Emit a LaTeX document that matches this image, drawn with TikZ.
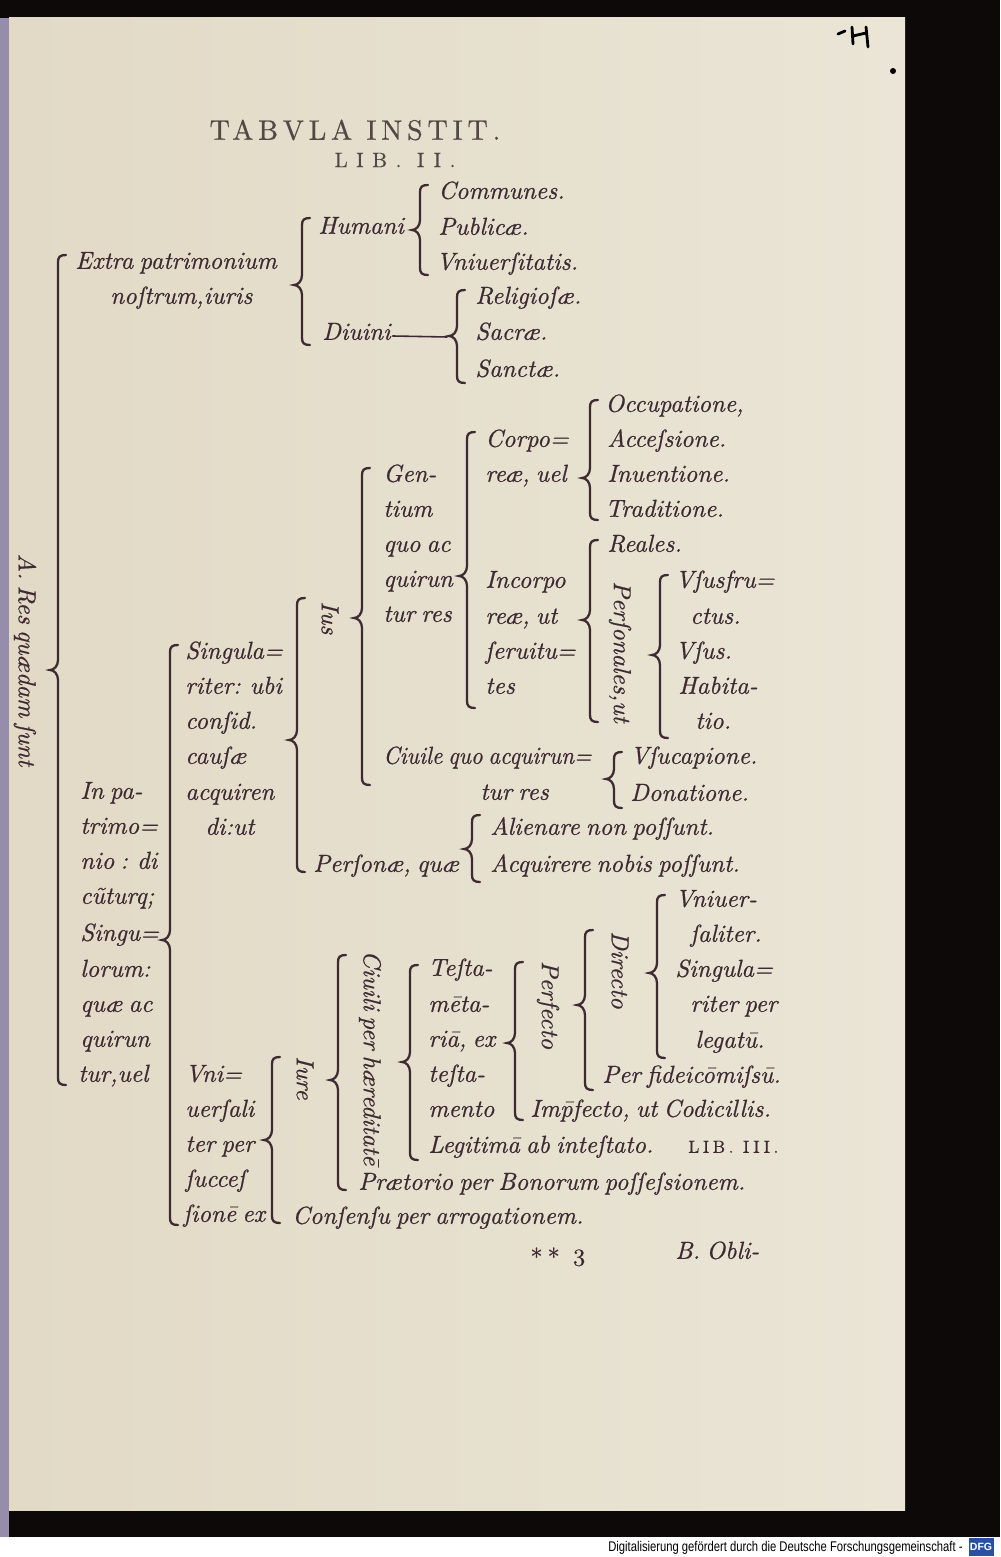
\documentclass[tikz,border=0pt]{standalone}
\usepackage{fontspec}
\newfontfamily\dfgfont{Liberation Sans}
\newfontfamily\oldit{lmroman10-italic.otf}[FakeBold=0.6,WordSpace=0.7]
\newfontfamily\titlefont{lmroman10-regular.otf}[LetterSpace=17,FakeBold=0.6]
\newfontfamily\libfont{lmroman10-regular.otf}[LetterSpace=40,FakeBold=0.4]
\newfontfamily\libsmall{lmroman10-regular.otf}[LetterSpace=20,FakeBold=0.4]
\definecolor{ink}{RGB}{62,42,50}
\definecolor{head}{RGB}{82,72,70}
\definecolor{paper}{RGB}{226,218,198}
\definecolor{paperlt}{RGB}{234,229,214}
\definecolor{edge}{RGB}{150,140,172}
\definecolor{scanbg}{RGB}{14,9,9}
\definecolor{dfgblue}{RGB}{40,80,160}
\newcommand{\itfont}{\oldit\fontsize{14}{17}\selectfont}
% bracket: x, top, tip, bottom (page pixels)
\newcommand{\brak}[4]{%
  \draw[brk] (#1+8,#2) .. controls (#1+2,#2) and (#1,#2+2) .. (#1,#2+7)
    -- (#1,#3-10) .. controls (#1,#3-4) and (#1-4,#3) .. (#1-8,#3)
    .. controls (#1-4,#3) and (#1,#3+4) .. (#1,#3+10)
    -- (#1,#4-7) .. controls (#1,#4-2) and (#1+2,#4) .. (#1+8,#4);}

\begin{document}
\begin{tikzpicture}[x=0.02cm,y=-0.02cm,
  txt/.style={anchor=mid west,inner sep=0pt,text=ink,font=\itfont},
  vtxt/.style={rotate=-90,inner sep=0pt,text=ink,font=\itfont},
  brk/.style={draw=ink,line width=1.3pt,line cap=round}]
  \useasboundingbox (0,0) rectangle (1000,1557);
  % scan and page
  \fill[scanbg] (0,0) rectangle (1000,1557);
  \fill[white] (0,1537) rectangle (1000,1557);
  \fill[edge] (0,18) rectangle (9,1537);
  \shade[left color=paper,right color=paperlt] (9,18) rectangle (905,1510);
  % pencil mark
  \draw[black,line width=1.6pt,line cap=round] (838,34) -- (845,31);
  \draw[black,line width=1.6pt,line cap=round] (852,27) -- (853,44) (853,36) -- (866,33) (866,27) -- (868,47);
  \fill[black] (893,71) circle (3);

  % title
  \node[text=head,font=\titlefont\fontsize{16}{19}\selectfont] (titulus) at (355,130) {TABVLA INSTIT.};
  \node[text=head,font=\libfont\fontsize{12}{14}\selectfont] (liber) at (395,160) {LIB. II.};

  % extra patrimonium
  \node[txt] (extra) at (75,265) {Extra patrimonium};
  \node[txt] (nostrum) at (110,300) {noſtrum,iuris};
  \node[txt] (humani) at (318,230) {Humani};
  \node[txt] (diuini) at (322,336) {Diuini};
  \node[txt] (communes) at (438,195) {Communes.};
  \node[txt] (publicae) at (438,231) {Publicæ.};
  \node[txt] (uniuersitatis) at (436,266) {Vniuerſitatis.};
  \node[txt] (religiosae) at (475,300) {Religioſæ.};
  \node[txt] (sacrae) at (475,336) {Sacræ.};
  \node[txt] (sanctae) at (475,373) {Sanctæ.};
  \coordinate (diuinitip) at (447,337);
  \draw[brk,line width=0.9pt] ([xshift=1pt]diuini.mid east) -- (diuinitip);

  % ius gentium
  \node[vtxt] (ius) at (330,618) {Ius};
  \node[txt] (gen) at (383,478) {Gen-};
  \node[txt] (tium) at (383,513) {tium};
  \node[txt] (quoac) at (383,548) {quo ac};
  \node[txt] (quirunA) at (383,583) {quirun};
  \node[txt] (turresA) at (383,618) {tur res};
  \node[txt] (corpo) at (485,443) {Corpo=};
  \node[txt] (reaeuel) at (485,478) {reæ, uel};
  \node[txt] (occupatione) at (605,408) {Occupatione,};
  \node[txt] (accessione) at (607,443) {Acceſsione.};
  \node[txt] (inuentione) at (607,478) {Inuentione.};
  \node[txt] (traditione) at (605,513) {Traditione.};
  \node[txt] (incorpo) at (485,584) {Incorpo};
  \node[txt] (reaeut) at (485,620) {reæ, ut};
  \node[txt] (seruitu) at (485,655) {ſeruitu=};
  \node[txt] (tes) at (485,690) {tes};
  \node[txt] (reales) at (607,548) {Reales.};
  \node[vtxt] (personales) at (620,652) {Perſonales,ut};
  \node[txt] (usufru) at (675,584) {Vſusfru=};
  \node[txt] (ctus) at (690,620) {ctus.};
  \node[txt] (usus) at (675,655) {Vſus.};
  \node[txt] (habita) at (678,690) {Habita-};
  \node[txt] (tio) at (695,725) {tio.};
  % ius ciuile, personae
  \node[txt] (ciuile) at (383,760) {\scalebox{0.93}[1]{Ciuile quo acquirun=}};
  \node[txt] (turresB) at (480,796) {tur res};
  \node[txt] (usucapione) at (630,760) {Vſucapione.};
  \node[txt] (donatione) at (630,797) {Donatione.};
  \node[txt] (personae) at (313,868) {Perſonæ, quæ};
  \node[txt] (alienare) at (490,831) {Alienare non poſſunt.};
  \node[txt] (acquirere) at (490,868) {Acquirere nobis poſſunt.};

  % singulariter
  \node[txt] (singula) at (185,655) {Singula=};
  \node[txt] (riterubi) at (185,690) {riter: ubi};
  \node[txt] (consid) at (185,725) {conſid.};
  \node[txt] (causae) at (185,760) {cauſæ};
  \node[txt] (acquiren) at (185,796) {acquiren};
  \node[txt] (diut) at (205,831) {di:ut};

  % in patrimonio
  \node[vtxt] (resquaedam) at (25,660) {A. Res quædam ſunt};
  \node[txt] (inpa) at (80,795) {In pa-};
  \node[txt] (trimo) at (80,830) {trimo=};
  \node[txt] (niodi) at (80,865) {nio : di};
  \node[txt] (cuturq) at (80,900) {cũturq;};
  \node[txt] (singu) at (80,937) {Singu=};
  \node[txt] (lorum) at (80,973) {lorum:};
  \node[txt] (quaeac) at (80,1008) {quæ ac};
  \node[txt] (quirunB) at (80,1043) {quirun};
  \node[txt] (turuel) at (78,1078) {tur,uel};

  % uniuersaliter
  \node[txt] (uni) at (185,1078) {Vni=};
  \node[txt] (uersali) at (185,1113) {uerſali};
  \node[txt] (terper) at (185,1148) {ter per};
  \node[txt] (succes) at (185,1183) {ſucceſ};
  \node[txt] (sionex) at (183,1218) {ſionē ex};
  \node[vtxt] (iure) at (305,1078) {Iure};
  \node[vtxt] (ciuili) at (370,1058) {Ciuili per hæreditatē};
  \node[txt] (testa) at (428,972) {Teſta-};
  \node[txt] (menta) at (428,1008) {mēta-};
  \node[txt] (riaex) at (428,1043) {riā, ex};
  \node[txt] (testaB) at (428,1078) {teſta-};
  \node[txt] (mento) at (428,1113) {mento};
  \node[vtxt] (perfecto) at (548,1005) {Perfecto};
  \node[vtxt] (directo) at (620,970) {Directo};
  \node[txt] (uniuer) at (675,903) {Vniuer-};
  \node[txt] (saliter) at (690,938) {ſaliter.};
  \node[txt] (singulaB) at (675,973) {Singula=};
  \node[txt] (riterper) at (690,1008) {riter per};
  \node[txt] (legatu) at (695,1044) {legatū.};
  \node[txt] (fideicom) at (602,1079) {Per fideicōmiſsū.};
  \node[txt] (imperfecto) at (530,1113) {Im\={p}fecto, ut Codicillis.};
  \node[txt] (legitima) at (428,1149) {Legitimā ab inteſtato.};
  \node[text=ink,anchor=mid west,inner sep=0pt,font=\libsmall\fontsize{10}{12}\selectfont] (libiii) at (688,1149) {LIB. III.};
  \node[txt] (praetorio) at (358,1186) {Prætorio per Bonorum poſſeſsionem.};
  \node[txt] (consensu) at (292,1220) {Conſenſu per arrogationem.};

  % page foot
  \node[text=ink,anchor=mid west,inner sep=0pt,font=\libsmall\fontsize{14}{17}\selectfont] (signatura) at (530,1262) {** 3};
  \node[txt] (custos) at (675,1255) {B. Obli-};

  % brackets
  \brak{58}{255}{670}{1085}
  \brak{302}{218}{285}{345}
  \brak{420}{185}{230}{275}
  \brak{457}{290}{336}{383}
  \brak{362}{468}{618}{785}
  \brak{467}{432}{576}{708}
  \brak{590}{400}{478}{520}
  \brak{590}{540}{620}{722}
  \brak{660}{575}{655}{738}
  \brak{614}{752}{779}{808}
  \brak{472}{815}{849}{882}
  \brak{297}{598}{740}{872}
  \brak{170}{645}{940}{1225}
  \brak{272}{1057}{1140}{1223}
  \brak{338}{955}{1080}{1190}
  \brak{410}{965}{1062}{1160}
  \brak{515}{962}{1043}{1120}
  \brak{585}{930}{1005}{1090}
  \brak{657}{895}{973}{1058}

  % digitisation credit
  \node[anchor=mid east,inner sep=0pt,text=black,font=\dfgfont\fontsize{8}{9}\selectfont] (credit) at (963,1548)
    {\scalebox{0.8}[1]{Digitalisierung gefördert durch die Deutsche Forschungsgemeinschaft -}};
  \node[fill=dfgblue,text=white,inner sep=0pt,minimum width=0.5cm,minimum height=0.36cm,
    font=\dfgfont\bfseries\fontsize{6}{6}\selectfont] (dfglogo) at (981,1547) {DFG};
\end{tikzpicture}
\end{document}
